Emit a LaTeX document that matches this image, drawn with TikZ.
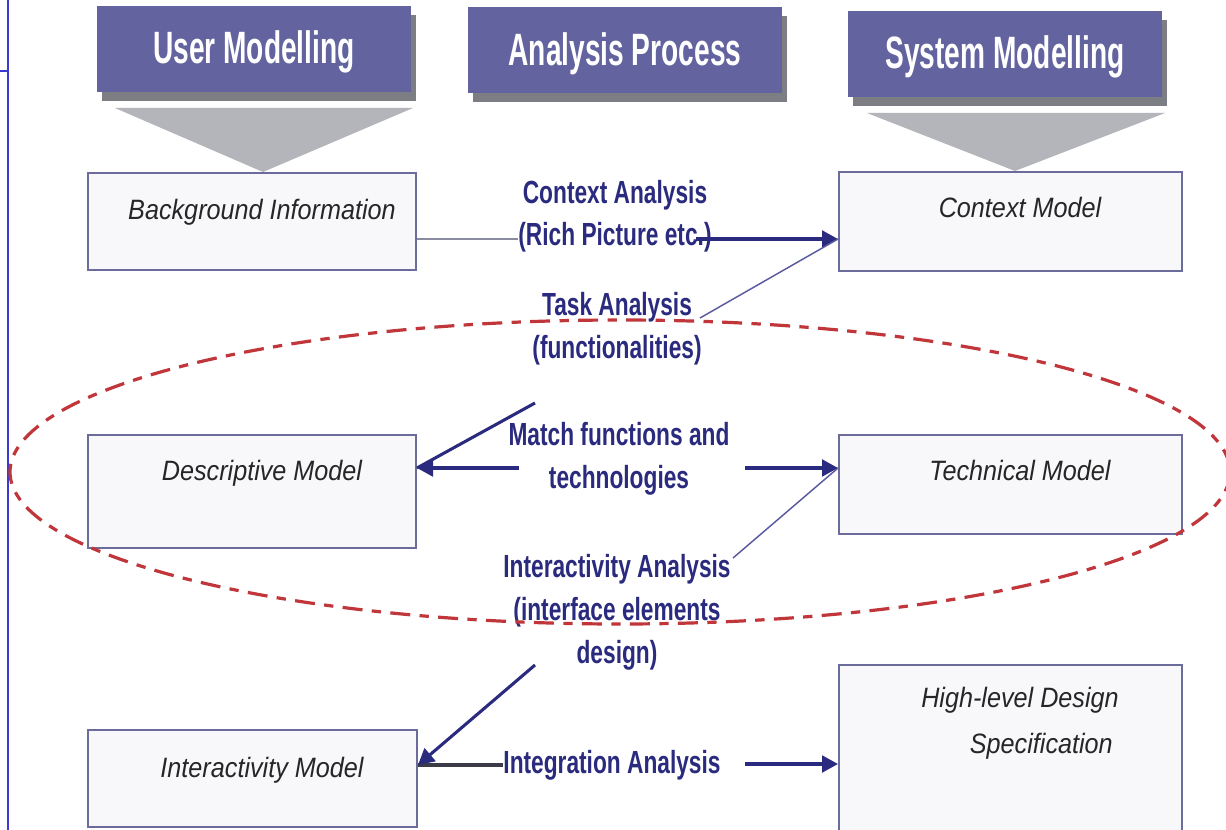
\documentclass[tikz,border=0pt]{standalone}
\usepackage{fontspec}
\setmainfont{Liberation Sans}
\newfontfamily\headfont[FakeStretch=0.62]{Liberation Sans}
\newfontfamily\labelfont[FakeStretch=0.71]{Liberation Sans}
\newfontfamily\boxfont[FakeStretch=0.9]{Liberation Sans}
\usetikzlibrary{arrows.meta}

\definecolor{headblue}{RGB}{99,99,160}
\definecolor{shadegrey}{RGB}{125,125,132}
\definecolor{funnelgrey}{RGB}{180,181,186}
\definecolor{boxline}{RGB}{108,108,156}
\definecolor{boxfill}{RGB}{248,248,250}
\definecolor{labelnavy}{RGB}{42,42,126}
\definecolor{thinnavy}{RGB}{90,90,160}
\definecolor{paleline}{RGB}{138,138,160}
\definecolor{darkline}{RGB}{60,60,72}
\definecolor{ringred}{RGB}{192,54,58}
\definecolor{marginblue}{RGB}{58,58,208}

\tikzset{every picture/.style={line width=0.75pt}}
\tikzset{
  headbox/.style={fill=headblue, text=white, inner sep=0pt, minimum width=235.5pt, minimum height=64.5pt,
    text height=25.5pt, text depth=3.4pt, font=\headfont\bfseries\fontsize{34}{40}\selectfont},
  headshade/.style={fill=shadegrey, inner sep=0pt, minimum width=235.5pt, minimum height=64.5pt},
  modelbox/.style={draw=boxline, fill=boxfill, line width=1.5pt, inner sep=0pt},
  modeltext/.style={text=black!85, inner sep=0pt, align=right, text height=15.75pt, text depth=5.25pt,
    font=\boxfont\itshape\fontsize{21}{34}\selectfont},
  steplabel/.style={text=labelnavy, inner sep=0pt, align=center, text height=18pt, text depth=6pt,
    font=\labelfont\bfseries\fontsize{24}{32}\selectfont},
  flowarrow/.style={draw=labelnavy, line width=2.3pt, -{Triangle[length=12pt,width=12.5pt]}},
  thinlink/.style={draw=thinnavy, line width=1.1pt},
  paleflow/.style={draw=paleline, line width=1.3pt},
  darkflow/.style={draw=darkline, line width=2.3pt},
  focusring/.style={draw=ringred, line width=2.4pt, dash pattern=on 15pt off 7pt on 7pt off 7pt},
}

\begin{document}
\begin{tikzpicture}[x=0.75pt,y=0.75pt,yscale=-1,xscale=1]
\path[fill=white] (0,0) rectangle (1226,830);
\useasboundingbox (0,0) rectangle (1226,830);

%Straight Lines (margin)
\draw[marginblue, line width=1.1pt] (8,0) -- (8,830);
\draw[marginblue, line width=1.1pt] (0,71) -- (8,71);

%Shape: Rectangle (header shadows)
\node[headshade] (usersh) at (259,58) {};
\node[headshade] (anash) at (630,59.5) {};
\node[headshade] (syssh) at (1010,63) {};
% Text Node (headers)
\node[headbox] (user) at (254,49) {User Modelling};
\node[headbox] (ana) at (625,50.5) {Analysis Process};
\node[headbox] (sys) at (1005,54) {System Modelling};

%Shape: Triangle (funnels)
\fill[funnelgrey] (115,108) -- (413,108) -- (263,172) -- cycle;
\fill[funnelgrey] (867,113) -- (1165,113) -- (1015,171) -- cycle;

%Shape: Rectangle (models)
\node[modelbox, minimum width=246pt, minimum height=72.75pt] (bg) at (252,221.5) {};
\node[modelbox, minimum width=257.25pt, minimum height=74.25pt] (ctx) at (1010.5,221.5) {};
\node[modelbox, minimum width=246pt, minimum height=84.75pt] (desc) at (252,491.5) {};
\node[modelbox, minimum width=257.25pt, minimum height=74.25pt] (tech) at (1010.5,484.5) {};
\node[modelbox, minimum width=246.75pt, minimum height=72.75pt] (inter) at (252.5,778.5) {};
\node[modelbox, minimum width=257.25pt, minimum height=127.5pt] (hld) at (1010.5,750) {};

% Text Node (model names)
\node[modeltext] (bgt) at (262,213) {Background Information};
\node[modeltext] (ctxt) at (1020,211) {Context Model};
\node[modeltext] (desct) at (262,473) {Descriptive Model};
\node[modeltext] (techt) at (1020,473) {Technical Model};
\node[modeltext] (intert) at (262,770) {Interactivity Model};
\node[modeltext] (hldt) at (1020,746) {High-level Design\\Specification\kern4.5pt};

% Text Node (analysis steps)
\node[steplabel] (ctxlab) at (615,238) {Context Analysis\\(Rich Picture etc.)};
\node[steplabel] (tasklab) at (617,350) {Task Analysis\\(functionalities)};
\node[steplabel] (matchlab) at (619,480) {Match functions and\\technologies};
\node[steplabel] (ialab) at (617,655) {Interactivity Analysis\\(interface elements\\design)};
\node[steplabel] (intlab) at (612,765) {Integration Analysis};

%Straight Lines (free ends)
\coordinate (ctxrow) at (0,239);
\coordinate (taskfrom) at (700,318);
\coordinate (descfrom) at (535,403);
\coordinate (matchL) at (519,468);
\coordinate (matchR) at (745,468);
\coordinate (iato) at (733,558);
\coordinate (iafrom) at (535,665);
\coordinate (intR) at (745,764);

\draw[paleflow] (bg.east |- ctxrow) -- (ctxlab.west |- ctxrow);
\draw[flowarrow] ([xshift=-12pt]ctxlab.east |- ctxrow) -- (ctx.west |- ctxrow);
\draw[thinlink] (taskfrom) -- (ctx.west |- ctxrow);
\draw[flowarrow, -] (descfrom) -- (desc.east |- matchL);
\draw[flowarrow] (matchL) -- (desc.east |- matchL);
\draw[flowarrow] (matchR) -- (tech.west |- matchR);
\draw[thinlink] (tech.west |- matchR) -- (iato);
\draw[darkflow] (intlab.west) -- (inter.east |- intlab.west);
\draw[flowarrow] (iafrom) -- (inter.east |- intlab.west);
\draw[flowarrow] (intR) -- (hld.west |- intR);

%Shape: Ellipse
\draw[focusring] (620,472) ellipse [x radius=610, y radius=152];

\end{tikzpicture}
\end{document}
